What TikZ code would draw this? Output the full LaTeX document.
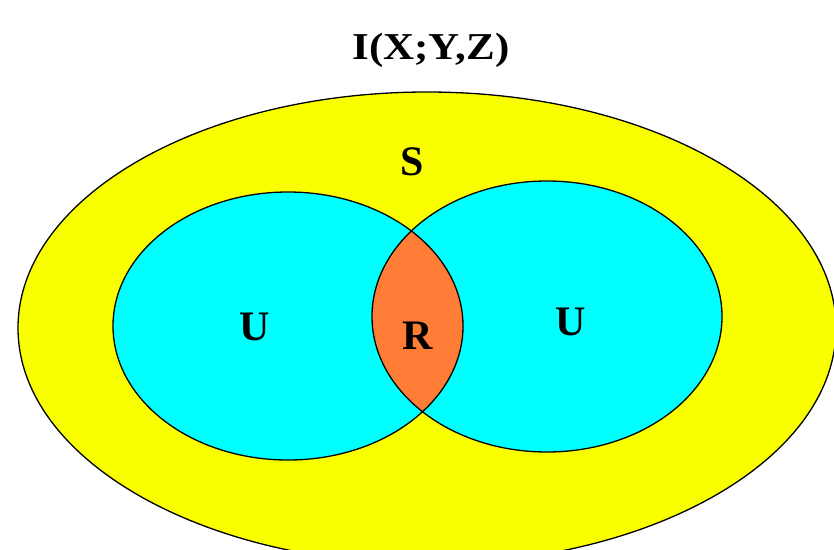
\documentclass[tikz,border=0pt]{standalone}
\usepackage{fontspec}
\setmainfont{Liberation Serif}
\definecolor{vyellow}{RGB}{250,255,0}
\definecolor{vcyan}{RGB}{0,255,255}
\definecolor{vorange}{RGB}{255,125,55}
\begin{document}
\begin{tikzpicture}[x=1pt,y=-1pt,
  outline/.style={draw=black,line width=1.3pt},
  lbl/.style={font=\bfseries\fontsize{42}{44}\selectfont,inner sep=0pt},
  ttl/.style={font=\bfseries\fontsize{38}{40}\selectfont,inner sep=0pt,xscale=1.13}]
\useasboundingbox (0,0) rectangle (834,549);
\begin{scope}
\clip (0,0) rectangle (834,549);
% outer ellipse S
\fill[vyellow] (427,328) ellipse [x radius=409, y radius=236];
\draw[outline] (427,328) ellipse [x radius=409, y radius=236];
% two inner ellipses
\fill[vcyan] (288,326) ellipse [x radius=175, y radius=134];
\fill[vcyan] (547,316.5) ellipse [x radius=175, y radius=135.5];
\begin{scope}
  \clip (288,326) ellipse [x radius=175, y radius=134];
  \fill[vorange] (547,316.5) ellipse [x radius=175, y radius=135.5];
\end{scope}
\draw[outline] (288,326) ellipse [x radius=175, y radius=134];
\draw[outline] (547,316.5) ellipse [x radius=175, y radius=135.5];
\end{scope}
% labels
\node[ttl] (title) at (431,50) {I(X;Y,Z)};
\node[lbl] (s) at (412,162) {S};
\node[lbl] (u1) at (255,327) {U};
\node[lbl] (r) at (418,336) {R};
\node[lbl] (u2) at (571,322) {U};
\end{tikzpicture}
\end{document}
